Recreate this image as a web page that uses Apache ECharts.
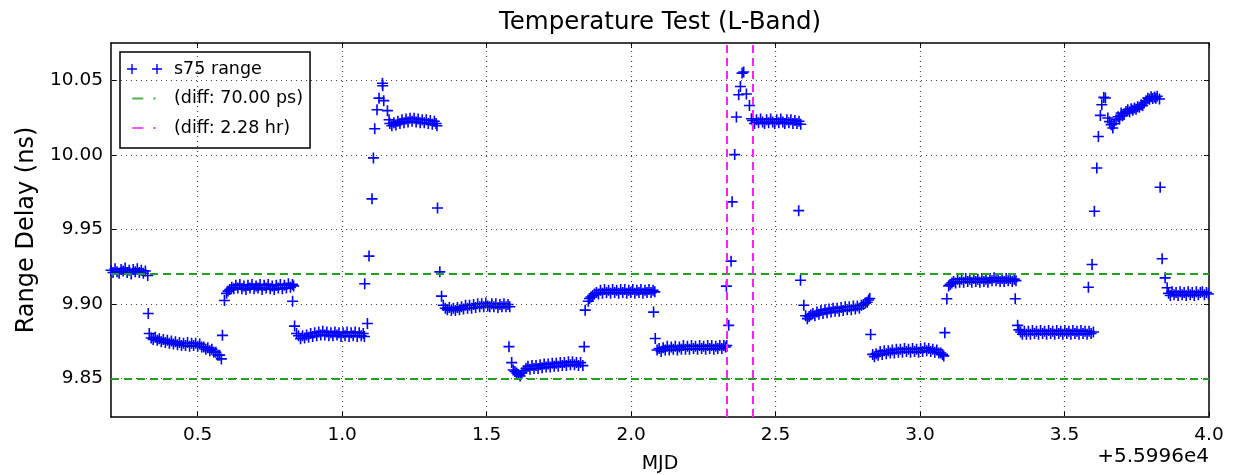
<!DOCTYPE html>
<html>
<head>
<meta charset="utf-8">
<script src="https://cdn.jsdelivr.net/npm/echarts@6/dist/echarts.min.js"></script>
<style>html,body{margin:0;padding:0;background:#fff;}#chart{width:1233px;height:475px;}</style>
</head>
<body>
<div id="chart"></div>
<script>
// ---- tick labels ----
var xTicks = [0.5, 1.0, 1.5, 2.0, 2.5, 3.0, 3.5, 4.0];
var yTicks = [9.85, 9.90, 9.95, 10.00, 10.05];
var xOffsetText = '+5.5996e4';
// ---- reference lines ----
var diffLevels = [9.9222, 9.8522];   // 70.00 ps apart
var diffTimes = [2.326, 2.421];      // 2.28 hr apart
// ---- s75 range samples [MJD - 55996, range delay ns] ----
var segA = [[0.200,9.9225],[0.207,9.9210],[0.214,9.9235],[0.221,9.9215],[0.228,9.9205],[0.235,9.9230],[0.242,9.9220],[0.249,9.9240],[0.256,9.9210],[0.263,9.9225],[0.270,9.9200],[0.277,9.9230],[0.284,9.9215],[0.291,9.9235],[0.298,9.9210],[0.305,9.9225],[0.312,9.9205],[0.319,9.9220],[0.327,9.9190]];
var dropAB = [[0.329,9.8935],[0.3325,9.8800]];
var segB = [[0.339,9.8770],[0.346,9.8760],[0.353,9.8775],[0.360,9.8755],[0.367,9.8765],[0.374,9.8745],[0.381,9.8760],[0.388,9.8740],[0.395,9.8755],[0.402,9.8735],[0.409,9.8750],[0.416,9.8730],[0.423,9.8745],[0.430,9.8725],[0.437,9.8740],[0.444,9.8720],[0.451,9.8735],[0.458,9.8720],[0.465,9.8740],[0.472,9.8715],[0.479,9.8735],[0.486,9.8720],[0.493,9.8735],[0.500,9.8715],[0.507,9.8730],[0.514,9.8710],[0.521,9.8710],[0.528,9.8695],[0.535,9.8705],[0.542,9.8685],[0.549,9.8695],[0.556,9.8675],[0.563,9.8675],[0.570,9.8655],[0.576,9.8655],[0.582,9.8630]];
var riseBC = [[0.5857,9.8788],[0.5926,9.9022]];
var segC = [[0.600,9.9070],[0.605,9.9085],[0.611,9.9095],[0.618,9.9110],[0.625,9.9100],[0.632,9.9125],[0.639,9.9105],[0.646,9.9130],[0.653,9.9100],[0.660,9.9120],[0.667,9.9095],[0.674,9.9125],[0.681,9.9105],[0.688,9.9130],[0.695,9.9100],[0.702,9.9120],[0.709,9.9105],[0.716,9.9130],[0.723,9.9095],[0.730,9.9125],[0.737,9.9105],[0.744,9.9130],[0.751,9.9100],[0.758,9.9120],[0.765,9.9095],[0.772,9.9125],[0.779,9.9105],[0.786,9.9130],[0.793,9.9100],[0.800,9.9125],[0.807,9.9105],[0.814,9.9135],[0.821,9.9110],[0.828,9.9130],[0.832,9.9120]];
var dropCD = [[0.8284,9.9017],[0.8353,9.8850]];
var segD = [[0.842,9.8800],[0.849,9.8785],[0.856,9.8765],[0.863,9.8785],[0.870,9.8770],[0.877,9.8790],[0.884,9.8775],[0.891,9.8800],[0.898,9.8780],[0.905,9.8805],[0.912,9.8785],[0.919,9.8810],[0.926,9.8790],[0.933,9.8815],[0.940,9.8790],[0.947,9.8810],[0.954,9.8785],[0.961,9.8805],[0.968,9.8785],[0.975,9.8810],[0.982,9.8790],[0.989,9.8805],[0.996,9.8780],[1.003,9.8805],[1.010,9.8785],[1.017,9.8810],[1.024,9.8780],[1.031,9.8805],[1.038,9.8785],[1.045,9.8810],[1.052,9.8780],[1.059,9.8805],[1.066,9.8785],[1.073,9.8800],[1.077,9.8780]];
var jump1 = [[1.078,9.9134],[1.0874,9.8868],[1.093,9.9320],[1.1033,9.9704],[1.1082,9.9979],[1.1127,10.0175],[1.1207,10.0302],[1.1276,10.0380],[1.1394,10.0480],[1.1404,10.0463],[1.1439,10.0363],[1.1567,10.0296],[1.1623,10.0235]];
var band1 = [[1.165,10.0210],[1.172,10.0195],[1.179,10.0215],[1.186,10.0200],[1.193,10.0225],[1.200,10.0210],[1.207,10.0235],[1.214,10.0215],[1.221,10.0240],[1.228,10.0220],[1.235,10.0245],[1.242,10.0225],[1.249,10.0245],[1.256,10.0220],[1.263,10.0240],[1.270,10.0215],[1.277,10.0235],[1.284,10.0215],[1.291,10.0235],[1.298,10.0210],[1.305,10.0230],[1.312,10.0205],[1.319,10.0225],[1.325,10.0210],[1.328,10.0195]];
var dropE = [[1.330,9.9643],[1.338,9.9214],[1.344,9.9051]];
var segE = [[1.350,9.8990],[1.357,9.8970],[1.364,9.8960],[1.371,9.8975],[1.378,9.8955],[1.385,9.8970],[1.392,9.8955],[1.399,9.8975],[1.406,9.8960],[1.413,9.8980],[1.420,9.8965],[1.427,9.8990],[1.434,9.8970],[1.441,9.8990],[1.448,9.8970],[1.455,9.8995],[1.462,9.8975],[1.469,9.9000],[1.476,9.8980],[1.483,9.9000],[1.490,9.8980],[1.497,9.9005],[1.504,9.8985],[1.511,9.8980],[1.518,9.9000],[1.525,9.8980],[1.532,9.9000],[1.539,9.8975],[1.546,9.8995],[1.553,9.8980],[1.560,9.9000],[1.567,9.8980],[1.574,9.8995],[1.580,9.8980]];
var dropEF = [[1.5773,9.8712],[1.5867,9.8605]];
var segF = [[1.592,9.8555],[1.598,9.8545],[1.604,9.8535],[1.610,9.8525],[1.616,9.8515],[1.622,9.8535],[1.629,9.8550],[1.636,9.8565],[1.643,9.8580],[1.650,9.8560],[1.657,9.8585],[1.664,9.8565],[1.671,9.8585],[1.678,9.8565],[1.685,9.8590],[1.692,9.8570],[1.699,9.8595],[1.706,9.8575],[1.713,9.8595],[1.720,9.8575],[1.727,9.8600],[1.734,9.8580],[1.741,9.8600],[1.748,9.8580],[1.755,9.8605],[1.762,9.8585],[1.769,9.8605],[1.776,9.8585],[1.783,9.8610],[1.790,9.8590],[1.797,9.8610],[1.804,9.8590],[1.811,9.8605],[1.818,9.8585],[1.825,9.8605],[1.833,9.8585]];
var riseFG = [[1.8377,9.8712],[1.841,9.8957],[1.852,9.9017]];
var segG = [[1.856,9.9035],[1.861,9.9045],[1.867,9.9055],[1.873,9.9065],[1.880,9.9075],[1.887,9.9065],[1.894,9.9090],[1.901,9.9070],[1.908,9.9095],[1.915,9.9075],[1.922,9.9090],[1.929,9.9070],[1.936,9.9095],[1.943,9.9075],[1.950,9.9090],[1.957,9.9070],[1.964,9.9095],[1.971,9.9075],[1.978,9.9095],[1.985,9.9070],[1.992,9.9090],[1.999,9.9075],[2.006,9.9095],[2.013,9.9070],[2.020,9.9090],[2.027,9.9075],[2.034,9.9095],[2.041,9.9070],[2.048,9.9090],[2.055,9.9075],[2.062,9.9095],[2.069,9.9075],[2.076,9.9090],[2.082,9.9080]];
var dropGH = [[2.0777,9.8944],[2.0836,9.8767]];
var segH = [[2.090,9.8690],[2.097,9.8700],[2.104,9.8680],[2.111,9.8705],[2.118,9.8690],[2.125,9.8715],[2.132,9.8690],[2.139,9.8710],[2.146,9.8695],[2.153,9.8715],[2.160,9.8690],[2.167,9.8710],[2.174,9.8695],[2.181,9.8720],[2.188,9.8695],[2.195,9.8715],[2.202,9.8695],[2.209,9.8720],[2.216,9.8700],[2.223,9.8715],[2.230,9.8695],[2.237,9.8720],[2.244,9.8700],[2.251,9.8715],[2.258,9.8695],[2.265,9.8720],[2.272,9.8700],[2.279,9.8720],[2.286,9.8695],[2.293,9.8715],[2.300,9.8700],[2.307,9.8720],[2.314,9.8700],[2.321,9.8720],[2.327,9.8710],[2.331,9.8720]];
var jump2 = [[2.3297,9.9118],[2.3377,9.8855],[2.346,9.9286],[2.3495,9.9684],[2.3585,10.0001],[2.3644,10.0253],[2.3724,10.0403],[2.3783,10.0458],[2.3842,10.0548],[2.3897,10.0555],[2.399,10.0408],[2.4095,10.0331],[2.4164,10.0242]];
var band2 = [[2.420,10.0230],[2.427,10.0210],[2.434,10.0235],[2.441,10.0215],[2.448,10.0240],[2.455,10.0220],[2.462,10.0210],[2.469,10.0235],[2.476,10.0215],[2.483,10.0240],[2.490,10.0220],[2.497,10.0210],[2.504,10.0235],[2.511,10.0215],[2.518,10.0240],[2.525,10.0220],[2.532,10.0210],[2.539,10.0235],[2.546,10.0215],[2.553,10.0235],[2.560,10.0210],[2.567,10.0230],[2.574,10.0210],[2.581,10.0225],[2.587,10.0205]];
var dropI = [[2.580,9.9625],[2.5863,9.9158],[2.5977,9.8990]];
var segI = [[2.604,9.8920],[2.610,9.8900],[2.616,9.8915],[2.622,9.8925],[2.629,9.8935],[2.636,9.8920],[2.643,9.8945],[2.650,9.8930],[2.657,9.8955],[2.664,9.8935],[2.671,9.8960],[2.678,9.8940],[2.685,9.8965],[2.692,9.8945],[2.699,9.8970],[2.706,9.8950],[2.713,9.8970],[2.720,9.8950],[2.727,9.8975],[2.734,9.8955],[2.741,9.8980],[2.748,9.8960],[2.755,9.8980],[2.762,9.8960],[2.769,9.8985],[2.776,9.8965],[2.783,9.8985],[2.790,9.8970],[2.797,9.8990],[2.804,9.8995],[2.811,9.9005],[2.817,9.9010],[2.822,9.9025],[2.826,9.9035]];
var dropJ = [[2.829,9.8794]];
var segJ = [[2.836,9.8660],[2.842,9.8645],[2.848,9.8665],[2.855,9.8655],[2.862,9.8680],[2.869,9.8660],[2.876,9.8685],[2.883,9.8665],[2.890,9.8685],[2.897,9.8670],[2.904,9.8690],[2.911,9.8670],[2.918,9.8695],[2.925,9.8675],[2.932,9.8695],[2.939,9.8675],[2.946,9.8700],[2.953,9.8680],[2.960,9.8695],[2.967,9.8675],[2.974,9.8700],[2.981,9.8680],[2.988,9.8695],[2.995,9.8675],[3.002,9.8700],[3.009,9.8680],[3.016,9.8705],[3.023,9.8685],[3.030,9.8700],[3.037,9.8680],[3.044,9.8695],[3.051,9.8675],[3.058,9.8690],[3.065,9.8670],[3.072,9.8670],[3.078,9.8660],[3.082,9.8650]];
var riseK = [[3.0857,9.8806],[3.0927,9.9034]];
var segK = [[3.099,9.9120],[3.104,9.9130],[3.110,9.9140],[3.116,9.9150],[3.123,9.9140],[3.130,9.9165],[3.137,9.9145],[3.144,9.9165],[3.151,9.9145],[3.158,9.9170],[3.165,9.9150],[3.172,9.9165],[3.179,9.9145],[3.186,9.9170],[3.193,9.9150],[3.200,9.9165],[3.207,9.9145],[3.214,9.9170],[3.221,9.9150],[3.228,9.9165],[3.235,9.9145],[3.242,9.9170],[3.249,9.9155],[3.256,9.9175],[3.263,9.9155],[3.270,9.9170],[3.277,9.9150],[3.284,9.9170],[3.291,9.9150],[3.298,9.9170],[3.305,9.9155],[3.312,9.9170],[3.319,9.9150],[3.326,9.9165],[3.332,9.9155]];
var dropL = [[3.3294,9.9034],[3.3377,9.8855]];
var segL = [[3.342,9.8825],[3.348,9.8810],[3.354,9.8795],[3.361,9.8815],[3.368,9.8795],[3.375,9.8815],[3.382,9.8795],[3.389,9.8820],[3.396,9.8800],[3.403,9.8815],[3.410,9.8795],[3.417,9.8820],[3.424,9.8800],[3.431,9.8815],[3.438,9.8795],[3.445,9.8820],[3.452,9.8800],[3.459,9.8815],[3.466,9.8795],[3.473,9.8820],[3.480,9.8800],[3.487,9.8815],[3.494,9.8795],[3.501,9.8820],[3.508,9.8800],[3.515,9.8815],[3.522,9.8795],[3.529,9.8820],[3.536,9.8800],[3.543,9.8815],[3.550,9.8795],[3.557,9.8820],[3.564,9.8800],[3.571,9.8815],[3.578,9.8795],[3.585,9.8815],[3.592,9.8800],[3.600,9.8810]];
var jump3 = [[3.5826,9.9111],[3.5953,9.9263],[3.6033,9.9621],[3.6117,9.9911],[3.6172,10.0123],[3.6241,10.0264],[3.6290,10.0336],[3.6359,10.0385],[3.6415,10.0381]];
var band3 = [[3.6498,10.0247],[3.656,10.0222],[3.6612,10.0202],[3.6671,10.0180],[3.6716,10.0208],[3.6785,10.0235],[3.6855,10.0255],[3.6905,10.0240],[3.6959,10.0280],[3.7010,10.0262],[3.7063,10.0275],[3.7125,10.0290],[3.7190,10.0302],[3.7250,10.0288],[3.7305,10.0309],[3.7365,10.0298],[3.7420,10.0314],[3.7475,10.0305],[3.7530,10.0322],[3.7590,10.0318],[3.7652,10.0336],[3.7705,10.0330],[3.7756,10.0349],[3.7820,10.0362],[3.7884,10.0380],[3.7940,10.0372],[3.7998,10.0389],[3.8055,10.0378],[3.8113,10.0387],[3.8160,10.0380],[3.8207,10.0393],[3.8287,10.0374]];
var dropM = [[3.831,9.9782],[3.8378,9.9302],[3.8482,9.9174],[3.8551,9.9107]];
var segM = [[3.860,9.9070],[3.866,9.9055],[3.872,9.9080],[3.879,9.9060],[3.886,9.9075],[3.893,9.9055],[3.900,9.9080],[3.907,9.9060],[3.914,9.9075],[3.921,9.9055],[3.928,9.9080],[3.935,9.9060],[3.942,9.9075],[3.949,9.9055],[3.956,9.9080],[3.963,9.9060],[3.970,9.9075],[3.977,9.9080],[3.984,9.9060],[3.991,9.9075],[3.998,9.9065]];

var s75 = [].concat(segA, dropAB, segB, riseBC, segC, dropCD, segD, jump1, band1, dropE, segE, dropEF, segF, riseFG, segG, dropGH, segH, jump2, band2, dropI, segI, dropJ, segJ, riseK, segK, dropL, segL, jump3, band3, dropM, segM);

var FONT = 'DejaVu Sans';
var plusPath = 'path://M0,4.7L11,4.7L11,6.3L0,6.3Z M4.7,0L6.3,0L6.3,11L4.7,11Z';
var legPlus = 'path://M0,0L0.01,0L0,0.01Z M42,10L41.99,10L42,9.99Z M0,4.3L10,4.3L10,5.7L0,5.7Z M4.3,0L5.7,0L5.7,10L4.3,10Z M25,4.3L35,4.3L35,5.7L25,5.7Z M29.3,0L30.7,0L30.7,10L29.3,10Z';
var legDash = 'path://M0,0L0.01,0L0,0.01Z M42,10L41.99,10L42,9.99Z M5.3,4L16.3,4L16.3,6L5.3,6Z M26.3,4L28.6,4L28.6,6L26.3,6Z';

var chart = echarts.init(document.getElementById('chart'), null, {renderer: 'canvas'});
var frameLine = {show: true, onZero: false, lineStyle: {color: '#000', width: 1.5}};
var tickIn = {show: true, inside: true, length: 5, lineStyle: {color: '#000', width: 1}};
chart.setOption({
  animation: false,
  backgroundColor: '#fff',
  textStyle: {fontFamily: FONT},
  title: {
    text: 'Temperature Test (L-Band)', left: 660, top: 10, padding: 0, textAlign: 'center',
    textStyle: {fontFamily: FONT, fontSize: 24.5, fontWeight: 'normal', color: '#000'}
  },
  grid: {left: 111, right: 24, top: 43, bottom: 58, containLabel: false, outerBoundsMode: 'none'},
  legend: {
    orient: 'vertical', left: 120, top: 52, padding: [7, 7, 10, 7], itemGap: 9.5,
    itemWidth: 42, itemHeight: 10, selectedMode: false,
    backgroundColor: '#fff', borderColor: '#000', borderWidth: 1.5, borderRadius: 0,
    textStyle: {fontFamily: FONT, fontSize: 17.5, color: '#000', lineHeight: 20},
    data: [
      {name: 's75 range', icon: legPlus, itemStyle: {color: '#0000ff', borderWidth: 0}},
      {name: '(diff: 70.00 ps)', icon: legDash, itemStyle: {color: '#22a022', borderWidth: 0}},
      {name: '(diff: 2.28 hr)', icon: legDash, itemStyle: {color: '#ff22ff', borderWidth: 0}}
    ]
  },
  xAxis: [{
    type: 'value', position: 'bottom', min: 0.2, max: 4.0,
    name: 'MJD', nameLocation: 'middle', nameGap: 37.5,
    nameTextStyle: {fontFamily: FONT, fontSize: 19, color: '#000'},
    axisLine: frameLine, axisTick: Object.assign({customValues: xTicks}, tickIn),
    axisLabel: {customValues: xTicks, margin: 8.5, fontFamily: FONT, fontSize: 18.5, color: '#000',
      formatter: function (v) { return v.toFixed(1); }},
    splitLine: {show: false}
  }, {
    type: 'value', position: 'top', min: 0.2, max: 4.0,
    axisLine: frameLine, axisTick: Object.assign({customValues: xTicks}, tickIn),
    axisLabel: {show: false}, splitLine: {show: false}
  }],
  yAxis: [{
    type: 'value', position: 'left', min: 9.824, max: 10.075,
    name: 'Range Delay (ns)', nameLocation: 'middle', nameGap: 70, nameRotate: 90,
    nameTextStyle: {fontFamily: FONT, fontSize: 24, color: '#000'},
    axisLine: frameLine, axisTick: Object.assign({customValues: yTicks}, tickIn),
    axisLabel: {customValues: yTicks, margin: 8, fontFamily: FONT, fontSize: 18.5, color: '#000',
      formatter: function (v) { return v.toFixed(2); }},
    splitLine: {show: false}
  }, {
    type: 'value', position: 'right', min: 9.824, max: 10.075,
    axisLine: frameLine, axisTick: Object.assign({customValues: yTicks}, tickIn),
    axisLabel: {show: false}, splitLine: {show: false}
  }],
  graphic: [{
    type: 'text', right: 24, top: 447,
    style: {text: xOffsetText, font: '20px "DejaVu Sans"', fill: '#000', textAlign: 'right'}
  }],
  series: [{
    name: 'grid', type: 'scatter', data: [], silent: true, z: 1,
    markLine: {
      silent: true, symbol: ['none', 'none'], label: {show: false}, animation: false,
      lineStyle: {type: [1, 4], color: '#444', width: 1.2},
      emphasis: {disabled: true},
      data: xTicks.map(function (v) { return {xAxis: v}; }).concat(yTicks.map(function (v) { return {yAxis: v}; }))
    }
  }, {
    name: '(diff: 70.00 ps)', type: 'scatter', data: [], itemStyle: {color: '#22a022'}, z: 2,
    markLine: {
      silent: true, symbol: ['none', 'none'], label: {show: false}, animation: false,
      lineStyle: {type: [8, 5], color: '#22a022', width: 2},
      emphasis: {disabled: true},
      data: diffLevels.map(function (v) { return {yAxis: v}; })
    }
  }, {
    name: '(diff: 2.28 hr)', type: 'scatter', data: [], itemStyle: {color: '#ff22ff'}, z: 2,
    markLine: {
      silent: true, symbol: ['none', 'none'], label: {show: false}, animation: false,
      lineStyle: {type: [8, 5], color: '#ff22ff', width: 2},
      emphasis: {disabled: true},
      data: diffTimes.map(function (v) { return {xAxis: v}; })
    }
  }, {
    name: 's75 range', type: 'scatter', data: s75, z: 3,
    symbol: plusPath, symbolSize: 11,
    itemStyle: {color: '#0000ff', opacity: 1},
    emphasis: {disabled: true}
  }]
});
</script>
</body>
</html>
